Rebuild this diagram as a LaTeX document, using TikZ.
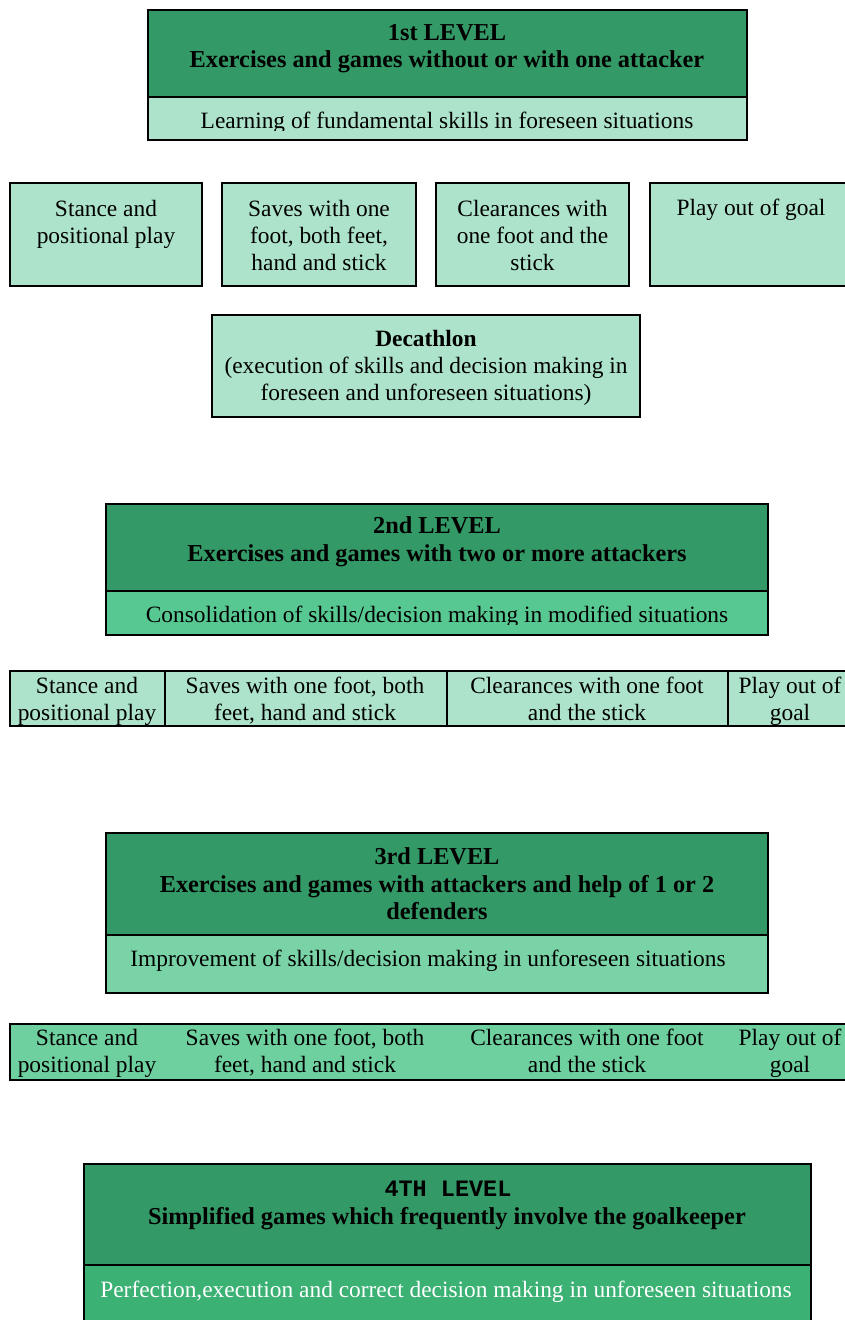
\documentclass[tikz,border=0pt]{standalone}
\usepackage{fontspec}
\setmainfont{Liberation Serif}
\newfontfamily\lmono{Liberation Mono}
\definecolor{dark}{HTML}{339966}
\definecolor{pale}{HTML}{ADE3CA}
\definecolor{midA}{HTML}{57C892}
\definecolor{midB}{HTML}{7AD3A7}
\definecolor{rowC}{HTML}{6ECF9F}
\definecolor{deep}{HTML}{3BB174}
\tikzset{
  frame/.style={draw=black, line width=1.5pt, inner sep=0pt, outer sep=0pt, anchor=north west},
  txt/.style={font=\fontsize{23.4}{27}\selectfont, align=center, inner sep=0pt,
    execute at begin node=\strut, execute at end node=\strut},
  btxt/.style={font=\fontsize{24.3}{27.5}\selectfont\bfseries, align=center, inner sep=0pt,
    execute at begin node=\strut, execute at end node=\strut},
  line1/.style={font=\fontsize{23.4}{27}\selectfont, inner sep=0pt, anchor=base},
  bline1/.style={font=\fontsize{24.3}{27.5}\selectfont\bfseries, inner sep=0pt, anchor=base},
}
\begin{document}
\begin{tikzpicture}[x=1pt,y=-1pt]
\useasboundingbox[fill=white] (0,0) rectangle (844,1320);

% ---------- Level 1 ----------
\node[frame, fill=dark, minimum width=599, minimum height=87] (h1) at (148,10) {};
\node[frame, fill=pale, minimum width=599, minimum height=43] (s1) at (148,97) {};
\node[btxt] (h1t) at (447,50.3) {1st LEVEL\\Exercises and games without or with one attacker};
\begin{scope}
\clip (148,97) rectangle (747,130);
\node[line1] (s1t) at (447,128) {Learning of fundamental skills in foreseen situations};
\end{scope}

\node[frame, fill=pale, minimum width=192, minimum height=103] (a1) at (10,183) {};
\node[frame, fill=pale, minimum width=194, minimum height=103] (b1) at (222,183) {};
\node[frame, fill=pale, minimum width=193, minimum height=103] (c1) at (436,183) {};
\node[frame, fill=pale, minimum width=200, minimum height=103] (d1) at (650,183) {};
\node[txt] (a1t) at (106,226.1) {Stance and\\positional play};
\node[txt] (b1t) at (319,239.6) {Saves with one\\foot, both feet,\\hand and stick};
\node[txt] (c1t) at (532.5,239.6) {Clearances with\\one foot and the\\stick};
\node[line1] (d1t) at (751,215) {Play out of goal};

\node[frame, fill=pale, minimum width=428, minimum height=102] (dec) at (212,315) {};
\node[txt] (dect) at (426,369.6) {\textbf{Decathlon}\\(execution of skills and decision making in\\foreseen and unforeseen situations)};

% ---------- Level 2 ----------
\node[frame, fill=dark, minimum width=662, minimum height=87] (h2) at (106,504) {};
\node[frame, fill=midA, minimum width=662, minimum height=44] (s2) at (106,591) {};
\node[btxt] (h2t) at (437,543.3) {2nd LEVEL\\Exercises and games with two or more attackers};
\begin{scope}
\clip (106,591) rectangle (768,624);
\node[line1] (s2t) at (437,622) {Consolidation of skills/decision making in modified situations};
\end{scope}

\node[frame, fill=pale, minimum width=155, minimum height=55] (a2) at (10,671) {};
\node[frame, fill=pale, minimum width=282, minimum height=55] (b2) at (165,671) {};
\node[frame, fill=pale, minimum width=281, minimum height=55] (c2) at (447,671) {};
\node[frame, fill=pale, minimum width=130, minimum height=55] (d2) at (728,671) {};
\node[txt] (a2t) at (87,702.5) {Stance and\\positional play};
\node[txt] (b2t) at (305,702.5) {Saves with one foot, both\\feet, hand and stick};
\node[txt] (c2t) at (587,702.5) {Clearances with one foot\\and the stick};
\node[txt] (d2t) at (790,702.5) {Play out of\\goal};

% ---------- Level 3 ----------
\node[frame, fill=dark, minimum width=662, minimum height=102] (h3) at (106,833) {};
\node[frame, fill=midB, minimum width=662, minimum height=58] (s3) at (106,935) {};
\node[btxt] (h3t) at (437,888) {3rd LEVEL\\Exercises and games with attackers and help of 1 or 2\\defenders};
\node[line1] (s3t) at (428,966.5) {Improvement of skills/decision making in unforeseen situations};

\node[frame, fill=rowC, minimum width=850, minimum height=56] (r3) at (10,1024) {};
\node[txt] (a3t) at (87,1054.5) {Stance and\\positional play};
\node[txt] (b3t) at (305,1054.5) {Saves with one foot, both\\feet, hand and stick};
\node[txt] (c3t) at (587,1054.5) {Clearances with one foot\\and the stick};
\node[txt] (d3t) at (790,1054.5) {Play out of\\goal};

% ---------- Level 4 ----------
\node[frame, fill=dark, minimum width=727, minimum height=101] (h4) at (84,1164) {};
\node[frame, fill=deep, minimum width=727, minimum height=70] (s4) at (84,1265) {};
\node[inner sep=0pt, anchor=base, font=\fontsize{23.5}{26}\selectfont\lmono\bfseries] (h4a) at (448,1196) {4TH LEVEL};
\node[bline1] (h4b) at (447,1224) {Simplified games which frequently involve the goalkeeper};
\node[line1, text=white] (s4t) at (446,1297) {Perfection,execution and correct decision making in unforeseen situations};
\end{tikzpicture}
\end{document}
